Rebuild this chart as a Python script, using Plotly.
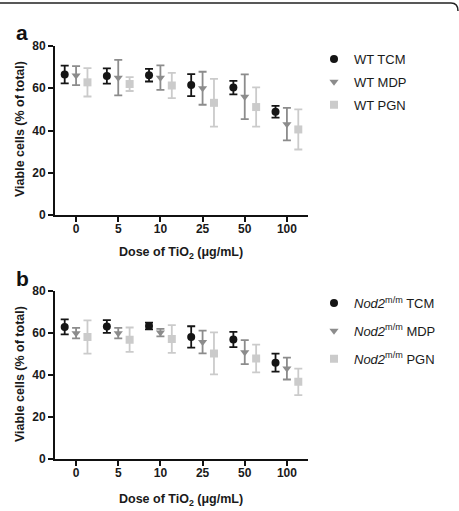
import plotly.graph_objects as go

doses = ["0", "5", "10", "25", "50", "100"]

wt_tcm_mean = [66.5, 65.8, 66.2, 61.5, 60.3, 48.9]
wt_tcm_sd = [4.2, 3.6, 3.0, 5.2, 3.2, 2.8]
wt_mdp_mean = [66.0, 65.0, 65.0, 60.0, 56.0, 43.0]
wt_mdp_sd = [4.5, 8.4, 5.8, 7.8, 10.6, 7.7]
wt_pgn_mean = [62.8, 62.0, 61.3, 53.1, 51.1, 40.5]
wt_pgn_sd = [6.7, 3.3, 6.0, 11.3, 9.3, 9.5]

nod_tcm_mean = [62.8, 63.0, 63.2, 58.0, 56.8, 45.8]
nod_tcm_sd = [3.6, 3.0, 1.6, 5.1, 3.6, 4.3]
nod_mdp_mean = [59.8, 59.8, 60.1, 55.6, 50.8, 43.0]
nod_mdp_sd = [2.5, 2.5, 1.8, 5.4, 5.7, 5.2]
nod_pgn_mean = [58.0, 56.7, 57.0, 50.2, 47.8, 36.7]
nod_pgn_sd = [7.9, 5.8, 6.6, 10.0, 6.6, 6.3]

W, H = 459, 511
FONT = "Liberation Sans, Arial, Helvetica, sans-serif"

series_styles = [
    dict(color="#151515", symbol="circle", off=-0.27),
    dict(color="#8c8c8c", symbol="triangle-down", off=0.0),
    dict(color="#cbcbcb", symbol="square", off=0.27),
]

fig = go.Figure()

panels = [
    dict(xa="x", ya="y", legend="legend",
         names=["WT TCM", "WT MDP", "WT PGN"],
         data=[(wt_tcm_mean, wt_tcm_sd), (wt_mdp_mean, wt_mdp_sd), (wt_pgn_mean, wt_pgn_sd)]),
    dict(xa="x2", ya="y2", legend="legend2",
         names=["<i>Nod2</i><sup>m/m</sup> TCM", "<i>Nod2</i><sup>m/m</sup> MDP", "<i>Nod2</i><sup>m/m</sup> PGN"],
         data=[(nod_tcm_mean, nod_tcm_sd), (nod_mdp_mean, nod_mdp_sd), (nod_pgn_mean, nod_pgn_sd)]),
]

for p in panels:
    for st, name, (m, sd) in zip(series_styles, p["names"], p["data"]):
        fig.add_trace(go.Scatter(
            x=[i + st["off"] for i in range(len(doses))],
            y=m,
            mode="markers",
            name=name,
            xaxis=p["xa"], yaxis=p["ya"],
            legend=p["legend"],
            legendgroup=p["legend"] + name,
            marker=dict(color=st["color"], symbol=st["symbol"], size=8, line=dict(width=0)),
            error_y=dict(type="data", array=sd, visible=True, color=st["color"],
                         thickness=1.8, width=4),
        ))

x0, x1 = 55 / W, 308 / W
dom_a = [(H - 215) / H, (H - 46) / H]
dom_b = [(H - 459) / H, (H - 290.7) / H]

xaxis_common = dict(
    range=[-0.5, 5.5], tickmode="array", tickvals=list(range(len(doses))), ticktext=doses,
    showline=True, linecolor="#111", linewidth=2, ticks="outside", ticklen=5, tickwidth=2,
    tickcolor="#111", showgrid=False, zeroline=False, domain=[x0, x1],
    ticklabelstandoff=-3, automargin=False,
    tickfont=dict(family=FONT, size=12, color="#1a1a1a", weight="bold"),
)
yaxis_common = dict(
    range=[0, 80], tickvals=[0, 20, 40, 60, 80],
    showline=True, linecolor="#111", linewidth=2, ticks="outside", ticklen=5, tickwidth=2,
    tickcolor="#111", showgrid=False, zeroline=False, automargin=False,
    tickfont=dict(family=FONT, size=12, color="#1a1a1a", weight="bold"),
)

fig.update_layout(
    width=W, height=H,
    margin=dict(l=0, r=0, t=0, b=0, pad=0, autoexpand=False),
    paper_bgcolor="white", plot_bgcolor="white",
    xaxis=dict(**xaxis_common, anchor="y"),
    yaxis=dict(**yaxis_common, domain=dom_a, anchor="x"),
    xaxis2=dict(**xaxis_common, anchor="y2"),
    yaxis2=dict(**yaxis_common, domain=dom_b, anchor="x2"),
    legend=dict(x=314 / W, y=(H - 44) / H, xanchor="left", yanchor="top",
                font=dict(family=FONT, size=13, color="#1a1a1a"),
                tracegroupgap=3, bgcolor="rgba(0,0,0,0)"),
    legend2=dict(x=314 / W, y=(H - 288) / H, xanchor="left", yanchor="top",
                 font=dict(family=FONT, size=13, color="#1a1a1a"),
                 tracegroupgap=8, bgcolor="rgba(0,0,0,0)"),
    showlegend=True,
)

ann_font_title = dict(family=FONT, size=12.5, color="#1a1a1a", weight="bold")
annotations = [
    dict(text="a", x=14 / W, y=(H - 32) / H, xanchor="left", yanchor="middle",
         font=dict(family=FONT, size=21, color="#111", weight="bold")),
    dict(text="b", x=14 / W, y=(H - 278) / H, xanchor="left", yanchor="middle",
         font=dict(family=FONT, size=21, color="#111", weight="bold")),
    dict(text="Viable cells (% of total)", x=20 / W, y=(H - 129) / H, textangle=-90,
         xanchor="center", yanchor="middle", font=ann_font_title),
    dict(text="Viable cells (% of total)", x=20 / W, y=(H - 374) / H, textangle=-90,
         xanchor="center", yanchor="middle", font=ann_font_title),
    dict(text="Dose of TiO<sub>2</sub> (μg/mL)", x=181 / W, y=(H - 253) / H,
         xanchor="center", yanchor="middle", font=ann_font_title),
    dict(text="Dose of TiO<sub>2</sub> (μg/mL)", x=181 / W, y=(H - 500) / H,
         xanchor="center", yanchor="middle", font=ann_font_title),
]
for a in annotations:
    a.update(xref="paper", yref="paper", showarrow=False)
fig.update_layout(annotations=annotations)

yt = 1 - 3 / H
fig.add_shape(type="path", xref="paper", yref="paper",
              path=f"M 0,{yt} L {451 / W},{yt} Q {458 / W},{yt} {458 / W},{1 - 11 / H}",
              line=dict(color="#222", width=1.5))

fig.write_html("out.html")
